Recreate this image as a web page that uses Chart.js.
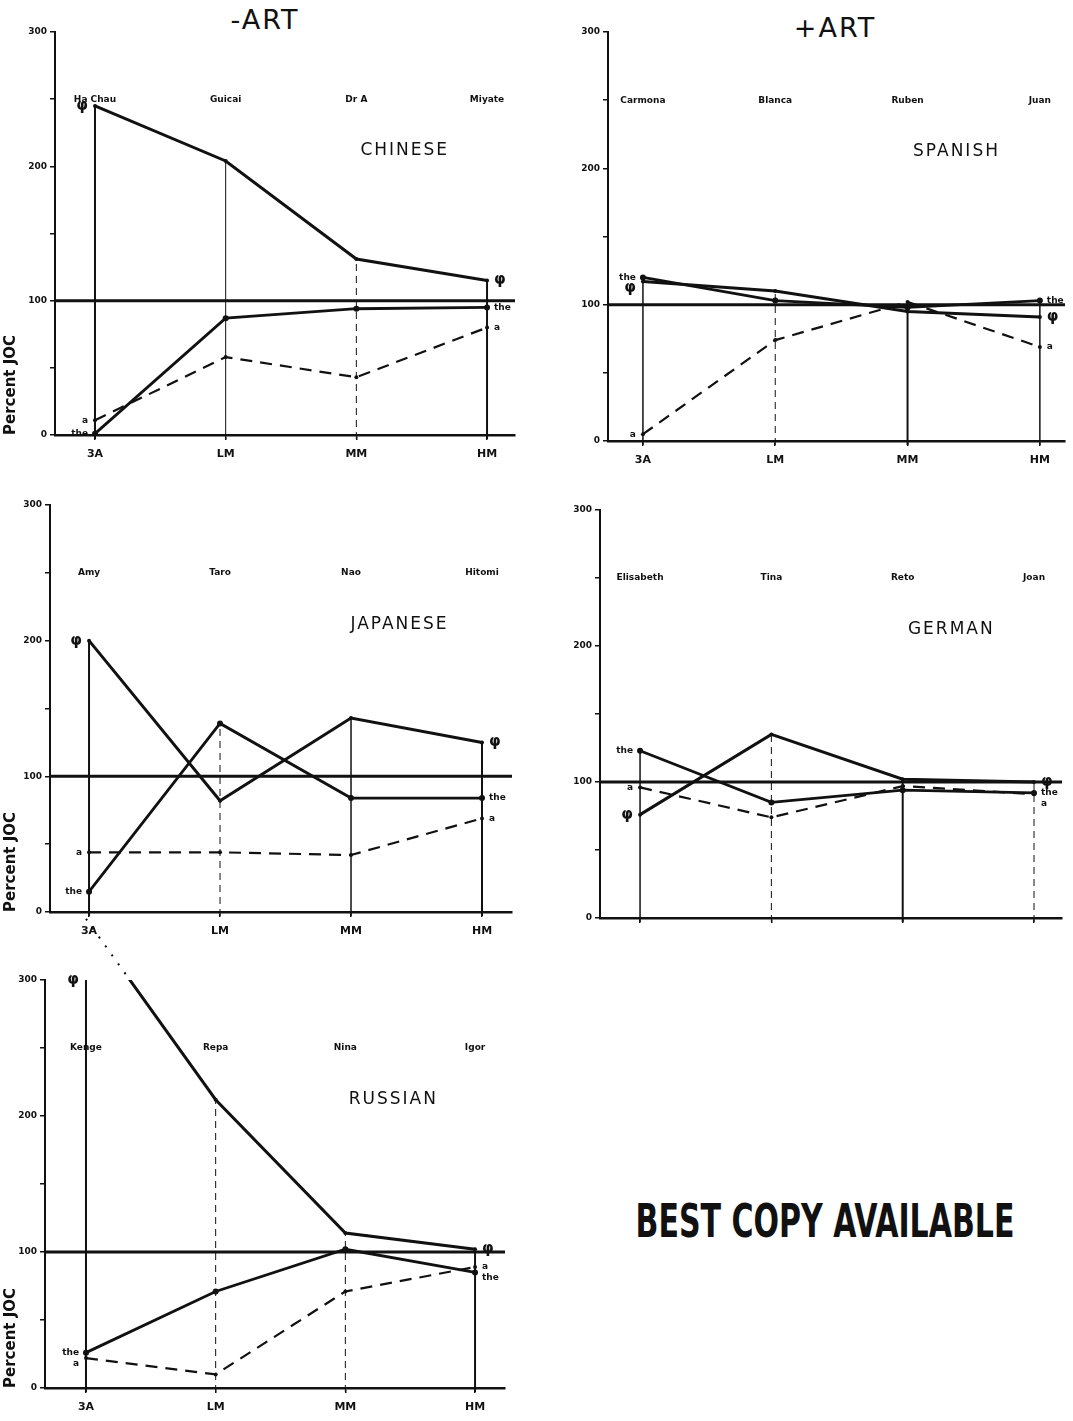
<!DOCTYPE html>
<html>
<head>
<meta charset="utf-8">
<title>Percent JOC by stage, -ART / +ART</title>
<style>
  body { margin: 0; background: #fff; width: 1073px; height: 1421px; position: relative; overflow: hidden; color: #111; font-family: 'DejaVu Sans', sans-serif; }
  .panel { position: absolute; }
  .head { position: absolute; font-size: 27px; transform: translateX(-50%); letter-spacing: 2px; }
  .stamp { position: absolute; left: 825px; top: 1193px; transform: translateX(-50%) scaleX(0.71); white-space: nowrap;
           font-family: 'Liberation Sans Narrow', 'DejaVu Sans Condensed', sans-serif; font-weight: bold; font-size: 47px; }
</style>
<script src="https://cdn.jsdelivr.net/npm/chart.js@4.4.0/dist/chart.umd.min.js"></script>
</head>
<body>
<div class="head" style="left:265px;top:4px">-ART</div>
<div class="head" style="left:835px;top:12px">+ART</div>
<div class="panel" style="left:0;top:0;width:535px;height:475px"><canvas id="chinese"></canvas></div>
<div class="panel" style="left:540px;top:0;width:533px;height:480px"><canvas id="spanish"></canvas></div>
<div class="panel" style="left:0;top:480px;width:535px;height:470px"><canvas id="japanese"></canvas></div>
<div class="panel" style="left:540px;top:480px;width:533px;height:470px"><canvas id="german"></canvas></div>
<div class="panel" style="left:0;top:900px;width:535px;height:521px"><canvas id="russian"></canvas></div>
<div class="stamp">BEST COPY AVAILABLE</div>

<script>
// stages on the x axis, percent JOC on the y axis
const stages = ['3A', 'LM', 'MM', 'HM'];
const yTicks = [0, 50, 100, 150, 200, 250, 300];
const refLevel = 100;
const nameLevel = 250;

// learners named above each stage
const chineseNames = ['Ha Chau', 'Guicai', 'Dr A', 'Miyate'];
const spanishNames = ['Carmona', 'Blanca', 'Ruben', 'Juan'];
const japaneseNames = ['Amy', 'Taro', 'Nao', 'Hitomi'];
const germanNames = ['Elisabeth', 'Tina', 'Reto', 'Joan'];
const russianNames = ['Kenge', 'Repa', 'Nina', 'Igor'];

// percent JOC, per article type (φ, the, a)
const chinesePhi = [245, 204, 131, 115];
const chineseThe = [1, 87, 94, 95];
const chineseA = [11, 58, 43, 80];

const spanishPhi = [117, 110, 95, 91];
const spanishThe = [120, 103, 98, 103];
const spanishA = [5, 74, 102, 69];

const japanesePhi = [200, 82, 143, 125];
const japaneseThe = [15, 139, 84, 84];
const japaneseA = [44, 44, 42, 69];

const germanPhi = [76, 135, 102, 100];
const germanThe = [123, 85, 94, 92];
const germanA = [96, 74, 97, 91];

const russianPhi = [345, 212, 114, 102];
const russianThe = [26, 71, 102, 85];
const russianA = [22, 10, 71, 89];

const INK = '#111';
const SOLID = [];
const DASH = [7, 5];

// layout: canvas box and chart area in page pixels, x range in stage units
const panels = [
  { id: 'chinese', box: [0, 0, 535, 475], area: [55, 32, 515, 435], xRange: [-0.306, 3.214],
    title: 'CHINESE', names: chineseNames, phi: chinesePhi, the: chineseThe, a: chineseA,
    drops: [[SOLID, 2], [SOLID, 1], [DASH, 1], [SOLID, 2]], yTitle: true, xLabels: true, axisDash: [] },
  { id: 'spanish', box: [540, 0, 533, 480], area: [608, 32, 1065, 441], xRange: [-0.264, 3.19],
    title: 'SPANISH', names: spanishNames, phi: spanishPhi, the: spanishThe, a: spanishA,
    drops: [[SOLID, 1.5], [DASH, 1], [SOLID, 2], [SOLID, 1.5]], yTitle: false, xLabels: true, axisDash: [] },
  { id: 'japanese', box: [0, 480, 535, 470], area: [50, 505, 512, 912], xRange: [-0.298, 3.229],
    title: 'JAPANESE', names: japaneseNames, phi: japanesePhi, the: japaneseThe, a: japaneseA,
    drops: [[SOLID, 2], [DASH, 1], [SOLID, 1.5], [SOLID, 2]], yTitle: true, xLabels: true, axisDash: [10, 3] },
  { id: 'german', box: [540, 480, 533, 470], area: [600, 510, 1062, 918], xRange: [-0.305, 3.213],
    title: 'GERMAN', names: germanNames, phi: germanPhi, the: germanThe, a: germanA,
    drops: [[SOLID, 1.5], [DASH, 1], [SOLID, 2], [DASH, 1]], yTitle: false, xLabels: false, axisDash: [] },
  { id: 'russian', box: [0, 900, 535, 521], area: [45, 980, 505, 1388], xRange: [-0.316, 3.231],
    title: 'RUSSIAN', names: russianNames, phi: russianPhi, the: russianThe, a: russianA,
    drops: [[SOLID, 2], [DASH, 1], [DASH, 1], [SOLID, 2]], yTitle: true, xLabels: true, axisDash: [10, 4], overflow: true }
];

const toPts = vals => vals.map((v, i) => ({ x: i, y: v }));

// vertical drop lines from the baseline up to the highest mark of each stage
const dropLines = {
  id: 'dropLines',
  beforeDatasetsDraw(chart, args, opts) {
    const { ctx, scales: { x, y } } = chart;
    const tagged = chart.data.datasets.filter(d => d.tag);
    ctx.save();
    ctx.strokeStyle = INK;
    opts.styles.forEach(([dash, w], i) => {
      const top = Math.min(Math.max(...tagged.map(d => d.data[i].y)), y.max);
      const px = x.getPixelForValue(i);
      ctx.beginPath();
      ctx.setLineDash(dash);
      ctx.lineWidth = w;
      ctx.moveTo(px, y.getPixelForValue(0) + 4);
      ctx.lineTo(px, y.getPixelForValue(top));
      ctx.stroke();
    });
    ctx.restore();
  }
};

// learner names, panel title and the φ / the / a tags at both ends of each line
const annotate = {
  id: 'annotate',
  afterDatasetsDraw(chart, args, opts) {
    const { ctx, scales: { x, y } } = chart;
    ctx.save();
    ctx.fillStyle = INK;
    ctx.textBaseline = 'middle';
    ctx.textAlign = 'center';
    ctx.font = 'bold 9px "DejaVu Sans"';
    opts.names.forEach((n, i) => ctx.fillText(n, x.getPixelForValue(i), y.getPixelForValue(nameLevel)));
    ctx.font = '17px "DejaVu Sans"';
    ctx.letterSpacing = '2px';
    ctx.fillText(opts.title, x.getPixelForValue(2.37), y.getPixelForValue(212));
    ctx.letterSpacing = '0px';

    const tagged = chart.data.datasets.filter(d => d.tag);
    [0, stages.length - 1].forEach(idx => {
      const items = tagged.map(d => ({
        tag: d.tag,
        y: y.getPixelForValue(Math.min(d.data[idx].y, y.max))
      })).sort((a, b) => a.y - b.y);
      for (let k = 1; k < items.length; k++) {
        if (items[k].y - items[k - 1].y < 11) items[k].y = items[k - 1].y + 11;
      }
      const px = x.getPixelForValue(idx);
      ctx.textAlign = idx === 0 ? 'right' : 'left';
      items.forEach(it => {
        ctx.font = it.tag === 'φ' ? 'bold 15px "DejaVu Sans"' : 'bold 9px "DejaVu Sans"';
        ctx.fillText(it.tag, idx === 0 ? px - 7 : px + 7, it.y);
      });
    });
    ctx.restore();
  }
};

function makeChart(p) {
  const [bx, by, bw, bh] = p.box;
  const [ax0, ay0, ax1, ay1] = p.area;
  const [xMin, xMax] = p.xRange;

  const datasets = [
    { label: 'φ', tag: 'φ', data: toPts(p.phi), borderColor: INK, borderWidth: 3,
      pointRadius: 2, pointBackgroundColor: INK, pointBorderWidth: 0 },
    { label: 'the', tag: 'the', data: toPts(p.the), borderColor: INK, borderWidth: 2.8,
      pointRadius: 3, pointBackgroundColor: INK, pointBorderWidth: 0 },
    { label: 'a', tag: 'a', data: toPts(p.a), borderColor: INK, borderWidth: 2.2, borderDash: [12, 8],
      pointRadius: 2, pointBackgroundColor: INK, pointBorderWidth: 0 },
    { label: '100', data: [{ x: xMin, y: refLevel }, { x: xMax, y: refLevel }], borderColor: INK,
      borderWidth: 3, pointRadius: 0 }
  ];
  if (p.overflow) {
    // the φ value that runs off the top of the scale, shown dotted beyond the axis
    datasets.push({ label: 'φ (off scale)', data: toPts(p.phi), borderColor: INK, borderWidth: 2,
      borderDash: [2, 9], pointRadius: 0, clip: false });
  }

  return new Chart(document.getElementById(p.id), {
    type: 'line',
    data: { datasets },
    options: {
      responsive: true,
      maintainAspectRatio: false,
      animation: false,
      layout: { padding: { left: 0, top: ay0 - by, right: bx + bw - ax1, bottom: 0 } },
      plugins: {
        legend: { display: false },
        tooltip: { enabled: false },
        dropLines: { styles: p.drops },
        annotate: { names: p.names, title: p.title }
      },
      scales: {
        x: {
          type: 'linear', min: xMin, max: xMax,
          afterBuildTicks: s => { s.ticks = stages.map((_, i) => ({ value: i })); },
          afterFit: s => { s.height = by + bh - ay1; },
          ticks: { display: p.xLabels, callback: (v, i) => stages[i], color: INK, padding: 8,
                   font: { family: 'DejaVu Sans', size: 11, weight: 'bold' } },
          grid: { drawOnChartArea: false, tickLength: 5, color: INK, lineWidth: 1.5 },
          border: { color: INK, width: 2.5 }
        },
        y: {
          min: 0, max: 300,
          afterBuildTicks: s => { s.ticks = yTicks.map(v => ({ value: v })); },
          afterFit: s => { s.width = ax0 - bx; },
          ticks: { callback: v => (v % 100 === 0 ? String(v) : ''), color: INK, padding: 3,
                   font: { family: 'DejaVu Sans', size: 9, weight: 'bold' } },
          grid: { drawOnChartArea: false, tickLength: 5, color: INK, lineWidth: 1.5 },
          border: { color: INK, width: 2, dash: p.axisDash },
          title: { display: p.yTitle, text: 'Percent JOC', align: 'start', color: INK, padding: 2,
                   font: { family: 'DejaVu Sans', size: 15, weight: 'bold' } }
        }
      }
    },
    plugins: [dropLines, annotate]
  });
}

panels.forEach(makeChart);
</script>
</body>
</html>
